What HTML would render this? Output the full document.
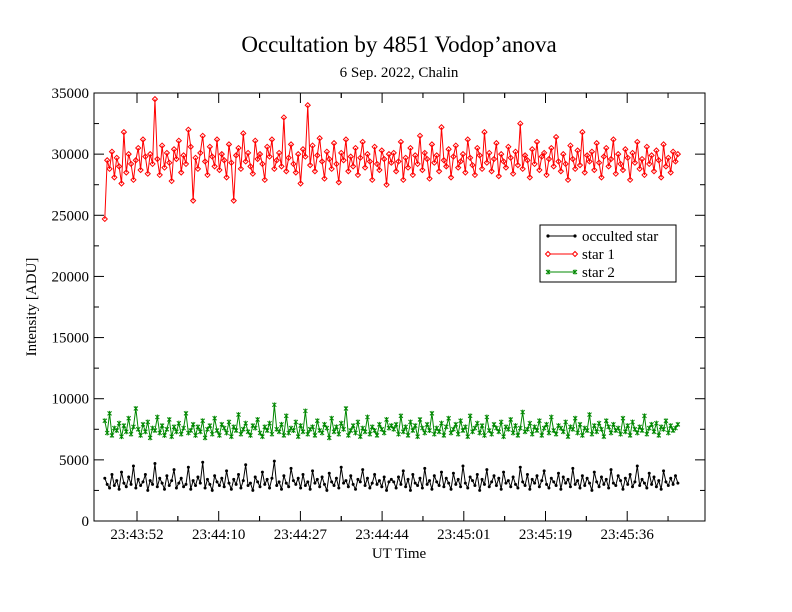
<!DOCTYPE html>
<html><head><meta charset="utf-8">
<style>
html,body{margin:0;padding:0;background:#fff;}
svg{display:block;font-family:"Liberation Serif",serif;}
</style></head>
<body>
<svg id="chart" width="792" height="612" viewBox="0 0 792 612" xmlns="http://www.w3.org/2000/svg">
<rect width="792" height="612" fill="#fff"/>
<text x="399" y="52" font-size="23" text-anchor="middle">Occultation by 4851 Vodop’anova</text>
<text x="399" y="77" font-size="15" text-anchor="middle">6 Sep. 2022, Chalin</text>
<text x="399" y="558" font-size="15" text-anchor="middle">UT Time</text>
<text transform="translate(36,307) rotate(-90)" font-size="15" text-anchor="middle">Intensity [ADU]</text>
<g id="axes"></g>
<g id="series"></g>
<g id="legend">
<rect x="540" y="225" width="136" height="57" fill="#fff" stroke="#000" stroke-width="1"/>
<g><line x1="548" y1="236" x2="575" y2="236" stroke="#000"/><circle cx="548" cy="236" r="1.6"/><circle cx="575" cy="236" r="1.6"/><text x="582" y="241" font-size="15">occulted star</text></g>
<g><line x1="548" y1="254" x2="575" y2="254" stroke="#f00"/><path d="M545.5,254L548,251.5L550.5,254L548,256.5ZM572.5,254L575,251.5L577.5,254L575,256.5Z" fill="#fff" stroke="#f00"/><text x="582" y="259" font-size="15">star 1</text></g>
<g><line x1="548" y1="272" x2="575" y2="272" stroke="#080"/><path d="M546,270L550,274M546,274L550,270M548,269.5V274.5M573,270L577,274M573,274L577,270M575,269.5V274.5" stroke="#080"/><text x="582" y="277" font-size="15">star 2</text></g>
</g>
</svg>
<script>
const yTicks=[0,5000,10000,15000,20000,25000,30000,35000];
const xTickTimes=[0,17.25,34.5,51.75,69,86.25,103.5];
const xTickLabels=["23:43:52","23:44:10","23:44:27","23:44:44","23:45:01","23:45:19","23:45:36"];
const tStart=-6.8, tEnd=114.2;
const star1=[247,295,288,302,281,297,290,276,318,285,300,292,279,295,305,287,312,298,284,300,292,345,296,283,307,289,301,293,278,304,296,311,285,299,292,320,306,262,297,288,301,315,294,283,306,298,290,312,287,300,295,281,308,293,262,299,305,288,317,294,301,290,284,311,296,300,292,279,306,298,312,288,295,301,290,330,286,297,308,292,285,300,276,304,298,340,291,307,286,299,313,294,280,302,296,288,309,292,277,301,295,312,286,298,290,305,283,297,310,289,300,294,279,306,292,287,303,296,275,300,293,
301,286,294,310,279,297,289,305,283,299,292,315,287,301,296,280,308,293,299,286,322,295,290,304,281,298,307,289,294,300,285,312,297,291,283,305,299,288,318,293,301,286,296,309,282,300,294,289,306,297,284,302,291,325,288,299,295,281,304,292,310,287,298,301,283,296,305,290,314,294,286,300,292,279,307,296,288,303,291,318,285,299,294,302,287,309,293,281,298,305,290,296,312,284,300,292,287,304,297,279,301,293,310,288,296,283,306,292,299,286,303,295,281,308,290,297,285,302,294,300].map(v=>v*100);
const star2=[82,72,88,70,76,74,80,69,78,73,84,71,77,92,75,70,79,73,81,68,76,74,85,72,78,70,75,83,69,77,73,80,71,76,88,72,74,79,70,77,73,82,68,75,78,71,84,74,70,79,76,72,81,69,77,74,87,71,75,80,73,70,78,76,83,72,69,77,74,80,71,95,75,73,79,70,86,72,76,74,81,69,78,73,90,71,75,77,70,82,74,72,79,76,68,84,73,77,71,80,75,92,70,74,78,72,81,69,76,73,85,71,77,74,70,79,75,72,83,76,78,
75,79,71,86,73,77,70,81,74,78,69,83,76,72,79,74,88,71,76,73,80,70,77,84,72,75,79,71,82,74,77,69,86,73,76,80,72,78,70,85,74,71,79,76,73,81,69,77,75,83,72,78,70,76,89,73,75,80,71,77,74,82,70,76,79,72,85,74,71,78,76,73,81,69,77,75,84,72,79,70,76,74,87,71,78,73,80,75,69,82,77,72,79,74,76,71,84,73,78,70,81,75,72,77,74,86,71,76,79,73,80,70,77,75,82,72,78,74,76,79].map(v=>v*100);
const occulted=[35,30,27,38,29,33,26,40,31,28,36,30,45,27,34,29,32,38,25,33,30,47,28,35,31,26,37,29,33,42,27,31,35,28,30,44,26,33,29,36,31,48,27,34,30,25,37,32,29,35,28,41,31,26,34,30,38,27,33,46,29,31,25,36,32,28,40,30,34,27,35,49,29,32,26,37,31,28,43,33,30,35,27,38,29,32,26,41,31,34,28,36,30,25,39,32,29,35,27,44,31,33,28,37,30,26,34,32,42,29,35,27,31,38,30,33,28,36,25,32,34,
32,27,36,30,41,28,34,25,38,31,29,35,27,43,30,33,26,37,32,29,40,28,35,31,26,39,30,34,28,45,31,27,36,33,29,38,25,34,30,42,28,32,37,29,35,26,40,31,33,28,36,30,27,44,32,29,38,26,34,31,37,28,33,41,30,27,35,32,29,39,26,36,31,34,28,43,30,33,27,37,29,35,31,25,40,32,28,36,30,34,27,42,31,29,37,33,26,35,30,38,28,32,45,29,34,31,27,39,30,36,28,33,26,41,32,29,35,30,37,31].map(v=>v*100);

const L=94,R=705,T=93,B=521;
const y=v=>B-(v/35000)*(B-T);
const x=t=>137+(t/17.25)*81.7;
const NS="http://www.w3.org/2000/svg";
function mk(tag,attrs,parent){const e=document.createElementNS(NS,tag);for(const k in attrs)e.setAttribute(k,attrs[k]);parent.appendChild(e);return e;}
const axes=document.getElementById('axes');
const frame=mk('rect',{x:L,y:T,width:R-L,height:B-T,fill:'none',stroke:'#000','stroke-width':1},axes);


for(let i=0;i<yTicks.length;i++){
  const v=yTicks[i],yy=y(v);
  mk('line',{x1:L,y1:yy,x2:L+10,y2:yy,stroke:'#000'},axes);
  mk('line',{x1:R,y1:yy,x2:R-10,y2:yy,stroke:'#000'},axes);
  if(i<yTicks.length-1){const ym=y(v+2500);mk('line',{x1:L,y1:ym,x2:L+5,y2:ym,stroke:'#000'},axes);mk('line',{x1:R,y1:ym,x2:R-5,y2:ym,stroke:'#000'},axes);}
  const t=mk('text',{x:L-5,y:yy+5,'font-size':15,'text-anchor':'end'},axes);
  t.textContent=v;
  
  
}
for(let i=0;i<xTickTimes.length;i++){
  const xx=x(xTickTimes[i]);
  mk('line',{x1:xx,y1:B,x2:xx,y2:B-10,stroke:'#000'},axes);
  mk('line',{x1:xx,y1:T,x2:xx,y2:T+10,stroke:'#000'},axes);
  const step=17.25/2;
  [xTickTimes[i]-step,xTickTimes[i]+step].forEach(tm=>{const xm=x(tm);if(xm>L+3&&xm<R){mk('line',{x1:xm,y1:B,x2:xm,y2:B-5,stroke:'#000'},axes);mk('line',{x1:xm,y1:T,x2:xm,y2:T+5,stroke:'#000'},axes);}});
  const t=mk('text',{x:xx,y:B+18,'font-size':15,'text-anchor':'middle'},axes);
  t.textContent=xTickLabels[i];
  
  
}
const sg=document.getElementById('series');
function draw(data,color,name,marker){
  const g=mk('g',{},sg);
  
  
  const n=data.length,pts=data.map((v,i)=>[x(tStart+(tEnd-tStart)*i/(n-1)),y(v)]);
  mk('polyline',{points:pts.map(p=>p.join(',')).join(' '),fill:'none',stroke:color,'stroke-width':1},g);
  pts.forEach(p=>{
    let m;
    if(marker==='dot')m=mk('circle',{cx:p[0],cy:p[1],r:1.5,fill:color},g);
    else if(marker==='diamond')m=mk('path',{d:`M${p[0]-2.5},${p[1]}L${p[0]},${p[1]-2.5}L${p[0]+2.5},${p[1]}L${p[0]},${p[1]+2.5}Z`,fill:'none',stroke:color,'stroke-width':1},g);
    else m=mk('path',{d:`M${p[0]},${p[1]-2.5}V${p[1]+2.5}M${p[0]-2},${p[1]-2}L${p[0]+2},${p[1]+2}M${p[0]-2},${p[1]+2}L${p[0]+2},${p[1]-2}`,stroke:color,'stroke-width':1},g);
    
    
  });
}
draw(star1,'#f00','series-star1','diamond');
draw(star2,'#080','series-star2','star');
draw(occulted,'#000','series-occulted-star','dot');
</script>
</body></html>
